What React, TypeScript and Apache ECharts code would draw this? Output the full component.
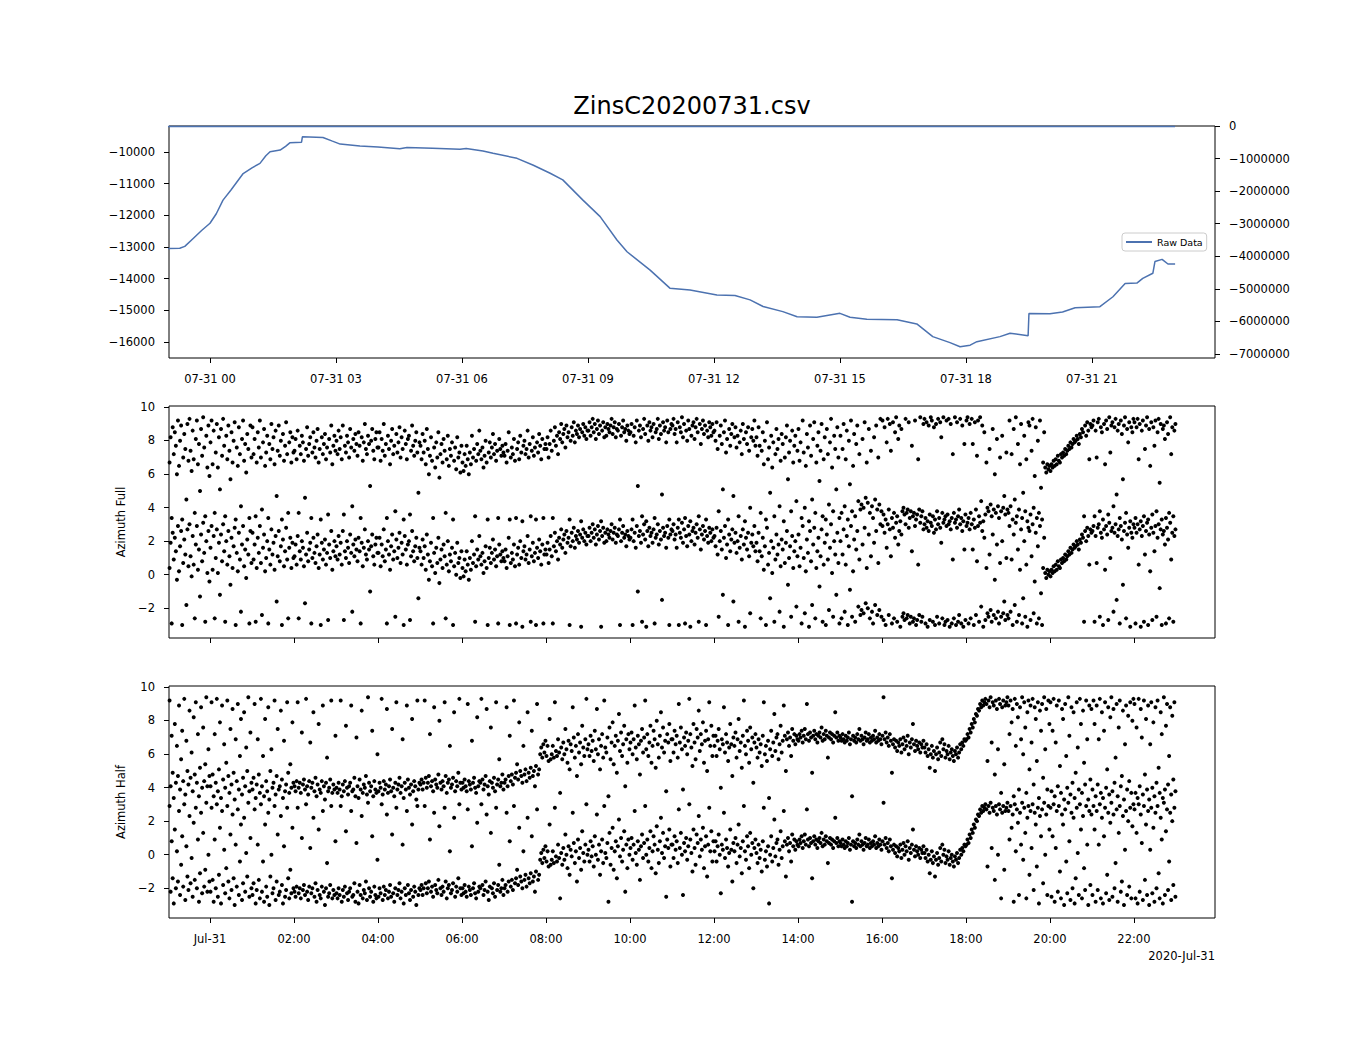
import React, { useEffect, useRef } from "react";
import * as echarts from "echarts";

const TITLE = "ZinsC20200731.csv";
const DATE_LABEL = "2020-Jul-31";
const LEGEND_NAME = "Raw Data";
const FULL_NAME = "Azimuth Full";
const HALF_NAME = "Azimuth Half";

// Raw data: hours relative to 2020-07-31 00:00 and values (left axis)
const rawHours = [
  -1.0, -0.72, -0.6, -0.4, -0.2, 0.0, 0.15, 0.31, 0.5, 0.79, 1.0, 1.19, 1.33, 1.43, 1.67, 1.8, 1.9, 2.18, 2.2,
  2.69, 2.9, 3.1, 3.57, 4.0, 4.52, 4.69, 5.3, 5.95, 6.1, 6.5, 6.74, 7.31, 7.7, 8.1, 8.4, 8.88, 9.29, 9.69, 9.93,
  10.48, 10.95, 11.43, 12.07, 12.5, 12.86, 13.17, 13.64, 13.98, 14.45, 15.0, 15.24, 15.64, 16.36, 16.83, 17.21,
  17.62, 17.86, 18.1, 18.26, 18.81, 19.05, 19.48, 19.5, 20.0, 20.3, 20.6, 21.19, 21.5, 21.79, 22.07, 22.21, 22.45,
  22.5, 22.67, 22.81, 22.98,
];
const rawValues = [
  -13050, -13040, -12980, -12730, -12480, -12250, -11950, -11520, -11200, -10680, -10500, -10360, -10120, -9990,
  -9940, -9820, -9710, -9690, -9520, -9540, -9650, -9750, -9810, -9840, -9900, -9855, -9880, -9915, -9890, -9970,
  -10040, -10200, -10420, -10670, -10880, -11520, -12040, -12780, -13150, -13730, -14300, -14360, -14515, -14530,
  -14670, -14880, -15040, -15200, -15220, -15095, -15220, -15285, -15300, -15430, -15830, -16020, -16150, -16100,
  -15990, -15830, -15726, -15800, -15100, -15110, -15050, -14920, -14885, -14570, -14150, -14140, -13990, -13830,
  -13460, -13390, -13537, -13537,
];
// Second raw series on the right axis (sits at the top edge)
const rightHours = [-1.0, 22.98];
const rightValues = [-15000, -15000];

// Tick positions
const topTickHours = [0, 3, 6, 9, 12, 15, 18, 21];
const bottomTickHours = [0, 2, 4, 6, 8, 10, 12, 14, 16, 18, 20, 22];
const leftTicks = [-16000, -15000, -14000, -13000, -12000, -11000, -10000];
const rightTicks = [0, -1000000, -2000000, -3000000, -4000000, -5000000, -6000000, -7000000];
const azTicks = [-2, 0, 2, 4, 6, 8, 10];

// Hour starts for the scatter samples
const hourStarts = [-1, 0, 1, 2, 3, 4, 5, 6, 7, 8, 9, 10, 11, 12, 13, 14, 15, 16, 17, 18, 19, 20, 21, 22];

// Azimuth Full (wrapped angle, radians), per hour
const fullH23 = [2.8, 0.4, 1.9, -2.9, 2.5, 0.9, 2.2, 1.4, -0.3, 2.9, 0.2, 1.7, 2.6, -3.0, 0.7, 2.1, 1.2, -1.8, 2.7, 0.5, 3.0, 1.1, -0.1, 2.3, 0.6, -2.6, 1.8, 2.9, 0.3, 1.5, -1.3, 2.4, 0.8, 3.1, 1.3, -2.8, 2.0, 0.1, 2.6, -0.4];
const fullH00 = [1.6, 2.9, 0.3, 2.3, -2.6, 1.0, 2.7, 0.1, 1.9, -1.2, 2.4, 0.8, 3.0, 1.4, -2.8, 2.0, 0.6, 2.6, 1.1, -0.6, 2.2, 0.4, 1.7, 2.8, -3.0, 1.3, 0.2, 2.5, 0.9, -2.2, 1.8, 2.9, 0.5, 1.5, -0.2, 2.1, 1.2, -2.9, 2.6, 0.7];
const fullH01 = [2.5, 0.9, 1.8, -2.8, 0.4, 2.2, 1.3, 2.9, 0.7, -2.4, 1.6, 2.4, 0.2, 1.0, 2.0, -2.9, 1.5, 0.6, 2.7, 1.2, 1.9, 0.3, 2.3, -1.6, 1.1, 2.6, 0.8, 1.7, -3.0, 2.1, 0.5, 1.4, 2.8, 0.9, -2.6, 1.6, 2.2, 0.4, 1.9, 1.0];
const fullH02 = [1.1, 1.8, 0.6, 2.3, -2.6, 1.4, 0.9, 2.0, 1.6, 0.5, -1.7, 1.2, 2.5, 0.8, 1.5, 1.9, -2.9, 1.0, 2.2, 1.3, 0.7, 1.7, 2.4, 0.4, 1.2, -3.0, 1.9, 0.9, 1.5, 2.1, 0.6, 1.3, -2.7, 1.8, 1.0, 2.6, 0.3, 1.4, 2.0, 1.1];
const fullH03 = [1.7, 0.9, 2.3, 1.2, 1.9, 0.6, 2.6, -2.7, 1.4, 1.0, 2.0, 1.6, 0.7, 2.4, 1.3, -2.2, 1.8, 1.1, 2.1, 1.5, 0.8, 2.2, 1.4, -2.9, 1.9, 0.5, 1.6, 2.7, 1.2, 0.9, 2.0, 1.5, -1.0, 1.7, 2.4, 1.1, 0.6, 1.8, 2.2, 1.3];
const fullH04 = [1.3, 2.2, 0.5, 1.8, 1.1, 2.7, 0.8, 1.5, -2.9, 2.0, 1.2, 0.3, 1.7, 2.4, 0.9, 1.4, -2.5, 2.1, 1.0, 1.6, 2.5, 0.7, 1.9, 1.2, -3.0, 2.3, 1.5, 0.6, 1.8, 2.0, -2.7, 1.1, 2.6, 1.4, 0.8, 1.7, 2.2, 1.0, -1.4, 1.6];
const fullH05 = [1.4, 0.6, 2.1, 1.0, 1.7, 0.3, 2.4, 1.2, -0.3, 0.8, 1.9, 0.5, -2.9, 1.3, 0.1, 1.6, 0.7, 2.2, -0.5, 0.9, 1.5, 0.4, 1.8, 1.1, -2.6, 0.6, 2.0, 0.2, 1.2, 0.8, 1.6, -3.0, 0.5, 1.3, 0.0, 1.9, 0.7, 1.0, -0.2, 1.4];
const fullH06 = [0.4, -0.1, 0.9, 0.2, 1.4, 0.6, -0.3, 1.0, 0.3, 2.0, 0.7, 1.2, -2.8, 0.5, 1.5, 0.9, 2.3, 1.1, 0.6, 1.3, 0.1, 0.8, 1.7, 0.4, -3.0, 1.0, 1.6, 0.7, 1.3, 2.1, 0.9, 1.5, 0.5, 1.1, -2.9, 1.8, 1.2, 0.8, 1.4, 1.0];
const fullH07 = [0.8, 1.5, 0.4, 1.1, 2.2, -3.0, 0.7, 1.3, 0.9, 1.8, 0.5, -2.9, 1.2, 1.6, 0.6, 2.0, 1.0, -3.1, 1.4, 1.7, 0.9, 1.2, 2.3, 0.7, 1.5, -2.8, 1.1, 1.9, 0.8, 1.3, -3.0, 1.6, 1.0, 2.1, 1.4, 0.6, 1.8, -2.9, 1.2, 1.5];
const fullH08 = [1.2, 1.9, 0.7, 1.5, 2.3, 1.1, -2.9, 1.7, 2.5, 1.4, 2.0, 0.9, 2.2, 1.8, 2.7, 1.6, 2.1, 2.4, 1.3, 2.6, 1.9, 2.2, -3.0, 1.7, 2.5, 2.0, 2.8, 1.6, 2.3, 2.1, 2.6, 1.9, 2.4, -3.1, 2.2, 2.7, 2.0, 2.5, 1.8, 2.3];
const fullH09 = [2.3, 2.8, 2.0, 2.5, 3.0, 2.2, 2.7, 1.8, 2.4, 2.9, 2.1, 2.6, -3.1, 2.3, 2.8, 1.9, 2.5, 2.0, 2.7, 2.4, 2.2, 2.6, 3.0, 2.1, 2.5, 2.8, 1.9, 2.4, 2.3, 2.7, -3.0, 2.0, 2.5, 2.9, 2.2, 2.4, 1.7, 2.6, 2.3, 2.1];
const fullH10 = [2.2, 2.7, -3.0, 2.0, 2.5, 1.6, 2.9, -1.0, 2.3, 2.6, 1.9, -2.8, 2.4, 3.0, 2.1, -3.1, 2.6, 1.7, 2.8, 2.3, 2.5, 1.9, 2.7, -2.9, 2.2, 2.4, 3.0, 1.8, 2.6, 2.1, -1.5, 2.8, 2.3, 2.5, 1.6, 2.9, 2.2, -3.0, 2.4, 2.7];
const fullH11 = [2.6, 3.0, 2.1, 2.4, 1.6, 2.8, -3.0, 2.5, 2.2, 3.1, 1.9, 2.7, -2.9, 2.3, 1.7, 2.9, 2.4, -3.1, 2.0, 2.6, 2.8, 1.8, 2.5, 3.0, 2.2, -2.8, 2.7, 1.5, 2.4, 2.9, 2.1, 2.6, -3.0, 2.3, 1.9, 2.8, 2.5, 2.0, 2.7, 2.2];
const fullH12 = [2.3, 1.7, 2.8, 1.2, -2.5, 2.0, 2.6, 1.5, -1.2, 2.2, 2.9, 1.0, 1.8, -3.0, 2.4, 1.4, 2.1, 2.7, -1.6, 1.9, 2.5, 1.3, 2.0, -2.8, 1.6, 2.3, 0.9, 2.7, 1.8, -3.1, 2.2, 1.5, 2.5, 1.1, -2.3, 1.9, 2.4, 1.7, 2.9, 1.4];
const fullH13 = [1.9, 0.8, 2.5, 1.4, -2.6, 1.1, 2.2, 0.3, 1.7, -3.0, 2.8, 0.6, 1.3, -1.4, 2.0, 0.1, 1.6, -2.8, 0.9, 2.4, 1.2, 1.8, -2.2, 0.5, 2.1, 1.5, -3.1, 0.7, 1.9, 2.6, -0.6, 1.0, 1.7, -2.5, 2.3, 0.4, 1.4, 2.0, -1.9, 1.1];
const fullH14 = [2.4, 0.5, 1.6, -2.9, 2.9, 1.0, -2.3, 0.2, 2.1, 1.3, -3.1, 2.6, 0.8, -1.8, 1.8, 2.8, -2.6, 0.4, 1.4, 2.2, -0.7, 1.1, 2.7, -2.8, 0.6, 1.9, -3.0, 2.4, 0.9, -2.1, 1.6, 3.0, 0.1, -2.5, 2.0, 1.2, -1.2, 2.5, 0.7, -2.9];
const fullH15 = [2.0, -2.6, 1.2, 2.7, -2.2, 0.6, 2.3, -3.0, 1.7, -0.9, 2.9, -2.5, 0.2, 2.1, -2.8, 1.5, 2.6, -1.9, 0.9, -2.4, -2.1, 1.8, -2.3, 2.8, -1.7, 0.4, -2.0, 2.4, -2.6, 1.1, -2.2, -2.9, 1.9, -1.8, 2.6, -2.4, 0.7, -2.1, 3.0, -2.5];
const fullH16 = [2.9, -2.7, 2.5, -3.0, 1.6, 3.0, -2.4, 2.7, 1.1, -2.9, 2.8, -2.6, 2.2, 3.1, -2.8, 1.8, 2.6, -3.1, 2.4, -2.5, -2.3, -2.7, 3.0, -2.6, -2.4, 2.8, -2.9, -2.5, 1.4, -2.8, -2.6, 2.9, -3.0, -2.7, 0.6, -2.4, 3.1, -2.8, -2.5, 2.7];
const fullH17 = [3.0, -2.9, 2.8, -3.1, 2.6, -2.7, 3.1, 2.9, -2.8, 2.5, -3.0, 2.7, -2.5, 3.0, -2.9, 2.8, 1.9, -2.6, 3.1, -3.0, -2.8, 2.9, -2.7, 3.0, -3.1, 2.7, -2.9, 0.9, -2.6, 3.1, -3.0, 2.8, -2.8, -2.4, 3.0, -2.9, 2.6, -3.1, 1.5, -2.7];
const fullH18 = [2.9, 3.1, -2.9, 2.7, -2.6, 3.0, 1.5, -3.0, 2.8, -2.4, 0.8, 2.9, -2.8, 3.1, -1.9, 2.6, -3.1, 2.2, -2.7, 0.4, -2.3, -2.5, 1.2, -2.1, -2.8, 2.4, -2.4, -0.3, -2.6, 1.8, -2.2, -2.9, 0.7, -2.5, 2.0, -2.3, -1.6, -2.7, 1.0, -2.4];
const fullH19 = [-2.6, 2.9, -2.2, 0.9, -3.0, 2.4, -1.8, 3.1, -2.8, 1.5, -2.4, 0.3, 2.7, -2.9, -1.4, 2.0, -2.5, 0.6, -3.1, 2.8, 2.6, -2.7, 1.1, 3.0, -2.3, -0.4, 2.5, -2.9, 1.7, -2.6, 2.9, -1.1, -3.0, 0.4, 2.2, 0.1, -0.2, 0.3, 0.0, 0.2];
const fullH20 = [-0.1, 0.3, 0.1, 0.5, 0.2, 0.6, 0.3, 0.8, 0.5, 0.4, 0.9, 0.7, 1.0, 0.8, 1.2, 0.9, 1.1, 1.4, 1.2, 1.6, 1.3, 1.5, 1.8, 1.6, 1.7, 2.0, 1.8, 1.5, 2.1, 1.9, 2.4, 2.2, -2.8, 2.6, 2.0, 2.8, 2.3, 0.6, 2.7, 2.5];
const fullH21 = [2.6, 2.9, -2.8, 2.3, 0.7, 2.8, 3.0, -2.5, 2.5, 2.2, -3.0, 2.7, 0.3, 2.9, 2.4, -2.7, 3.1, 1.0, 2.6, 2.8, -2.2, 2.5, 3.0, -1.5, 2.3, 2.7, -2.9, 2.9, 2.1, -0.6, 2.6, 3.1, -2.6, 2.4, 1.6, 2.8, -3.1, 2.5, 2.2, 3.0];
const fullH22 = [2.8, -2.9, 2.5, 3.0, 0.6, 2.7, -3.1, 2.3, 2.9, -2.8, 1.2, 2.6, 3.1, -3.0, 2.4, 0.2, 2.8, -2.7, 2.5, 1.4, 2.9, -2.5, 2.2, 3.0, -0.8, 2.7, -3.0, 2.4, 2.6, 1.8, -2.9, 2.8, 2.1, -2.6, 3.1, 0.9, 2.5, -2.8, 2.3, 2.7];

// Azimuth Half (wrapped angle, radians), per hour
const halfH23 = [-1.8, 2.9, -2.2, 0.8, -1.4, -2.9, 1.5, -2.0, 0.2, -1.6, 2.6, -2.4, -0.6, 1.1, -1.9, 3.0, -2.7, 0.5, -1.3, -2.1, 2.3, -1.7, -0.2, -2.5, 1.9, -1.5, 2.8, -2.0, 0.9, -2.8, -1.1, 2.5, -2.3, 1.3, -1.9, -0.9, 3.1, -2.2, 0.0, -1.6];
const halfH00 = [-2.2, 2.8, -1.5, -2.8, 0.9, -2.0, 3.0, -2.5, -1.2, 1.6, -2.9, 2.6, -1.8, 0.3, -2.3, -0.8, 2.9, -1.6, -2.6, 1.2, -2.1, 2.4, -1.4, -3.0, 0.6, -1.9, 2.7, -2.4, -0.4, 1.8, -2.7, -1.7, 2.2, -2.2, 0.1, -1.3, 3.1, -2.5, 1.0, -2.0];
const halfH01 = [-2.4, -1.7, 2.7, -2.9, -2.1, 0.6, -1.5, -2.6, 3.0, -2.2, -0.4, -2.8, 1.8, -1.9, -2.5, 2.5, -3.0, -1.3, 0.0, -2.3, -2.0, 2.9, -2.7, -1.6, 1.2, -2.4, -2.2, 2.3, -1.8, -2.9, 0.5, -2.5, -2.1, 2.8, -1.4, -2.6, -0.9, -2.3, 1.6, -2.0];
const halfH02 = [-2.2, -2.5, -1.9, 2.8, -2.3, -2.0, -2.6, 1.0, -2.1, -1.8, -2.4, 3.0, -2.2, -2.7, -1.9, 0.4, -2.3, -2.0, 2.2, -2.5, -1.7, -2.8, -2.1, 1.5, -2.4, -2.6, -1.9, 2.6, -2.2, -3.0, -2.0, -0.5, -2.5, -2.3, -1.8, 2.9, -2.6, -2.1, -2.4, 0.8];
const halfH03 = [-2.3, -2.6, -2.0, -2.4, 2.9, -2.8, -2.1, -2.5, -1.9, 1.4, -2.3, -2.7, -2.2, -2.0, 2.6, -2.5, -2.4, -1.7, -2.8, 0.7, -2.2, -2.9, -1.8, -2.4, 2.3, -2.6, -2.1, -2.3, -1.6, -2.7, 3.1, -2.0, -2.5, -2.2, 1.1, -2.8, -1.9, -2.4, -2.6, -0.3];
const halfH04 = [-2.5, -2.0, -2.3, 3.0, -2.7, -1.9, -2.4, -2.1, 2.4, -2.6, -2.2, -1.8, -2.5, 1.2, -2.3, -2.8, -2.0, 2.8, -2.4, -2.1, -1.7, -2.6, -2.2, 0.6, -2.9, -2.0, -2.4, 2.6, -1.8, -2.3, -2.7, -2.1, 1.8, -2.5, -1.9, -2.2, -3.0, 2.9, -2.4, -2.0];
const halfH05 = [-2.1, -1.8, -2.4, -2.0, 2.9, -1.7, -2.3, -2.0, -1.6, 0.9, -2.2, -1.9, -2.5, 2.5, -1.8, -2.1, -2.3, -1.5, 1.7, -2.0, -2.4, -1.9, -2.2, 2.8, -1.6, -2.6, -2.0, -1.8, 0.2, -2.3, -2.1, -1.7, 2.2, -2.5, -1.9, -2.2, -1.4, 3.0, -2.0, -2.4];
const halfH06 = [-2.0, -2.3, -1.8, -2.2, -2.5, 2.7, -1.9, -2.1, -2.4, 0.5, -2.0, -1.7, -2.3, -2.6, 1.9, -2.2, -1.9, -2.0, 3.0, -1.8, -2.4, -2.1, -1.6, 2.4, -2.2, -2.7, -1.9, 1.3, -2.0, -2.3, -1.7, -2.5, 2.8, -2.1, -1.8, -0.6, -2.2, -2.0, -1.5, -2.4];
const halfH07 = [-2.0, -1.8, 2.5, -2.2, -1.6, 0.8, -1.9, -1.5, -2.1, 2.9, -1.7, -1.4, -0.9, -1.8, 1.6, -1.3, -1.6, -2.0, 0.2, -1.5, -1.2, -1.9, 2.2, -1.4, -1.7, -1.1, 1.1, -1.6, -1.3, -2.2, -1.0, 2.7, -1.5, -1.2, -0.3, 0.1, -0.5, 0.3, -0.2, 0.5];
const halfH08 = [-0.4, 0.2, -0.7, 1.8, -0.6, -0.3, 0.2, -0.5, 2.8, -0.1, -0.4, 0.6, -0.2, -2.6, 0.1, -0.6, 0.4, -0.3, 1.2, 0.0, -0.8, 0.5, -1.2, 0.3, -0.1, 2.5, 0.7, -0.5, 0.2, -1.6, 0.9, -0.2, 0.4, -0.9, 1.4, 0.1, -0.4, 0.6, 3.0, 0.0];
const halfH09 = [0.3, -0.4, 0.8, -0.1, 0.5, -0.7, 1.1, 0.0, 2.4, -0.3, 0.6, -1.2, 0.2, 0.9, -0.5, 2.9, 0.1, -0.2, 0.7, -2.8, 1.3, -0.6, 0.4, 1.6, -0.9, 0.2, 0.8, -1.4, 0.5, 2.1, -0.1, 1.0, -0.4, 0.3, 1.4, -2.2, 0.6, -0.8, 0.9, 0.0];
const halfH10 = [0.4, 1.0, -0.3, 0.6, 2.6, 0.1, -0.6, 0.8, 0.3, -1.5, 0.5, 1.2, -0.2, 0.7, 2.9, 0.0, 0.9, -0.4, 0.4, 1.4, -0.8, 0.2, 1.1, 0.6, -1.1, 1.7, 0.3, -0.5, 0.8, 2.2, 0.1, 1.3, -0.2, 0.5, -2.5, 0.9, 0.4, 1.5, -0.7, 0.6];
const halfH11 = [0.6, -0.2, 1.1, 0.3, 0.8, -0.5, 2.7, 0.4, 1.3, 0.0, -2.4, 0.7, 0.2, 1.0, -0.3, 0.5, 3.0, 0.9, 0.1, -1.0, 1.5, 0.4, -0.6, 1.2, 0.7, 2.3, -0.1, 0.9, 0.3, 1.6, -0.8, 0.5, 1.1, -1.3, 0.6, 2.8, 0.2, 1.4, -0.4, 0.8];
const halfH12 = [0.2, 0.8, -0.4, 0.5, 1.2, 0.0, -2.3, 0.6, 0.3, 2.5, -0.2, 0.9, 0.4, -0.7, 0.1, 1.5, 0.3, -1.6, 0.7, 0.2, 1.0, -0.5, 0.6, 1.8, -0.1, 0.4, -1.1, 0.8, 2.9, 0.2, -0.3, 1.1, 0.5, -0.8, 1.3, 0.0, 0.7, -2.0, 0.4, 0.9];
const halfH13 = [0.1, -0.5, 0.6, -0.2, 0.3, -1.0, 0.8, 2.8, -0.3, 0.2, -0.7, 0.5, -2.9, 0.0, 1.1, -0.4, 0.4, 2.1, -0.1, 0.7, 0.9, -0.6, 0.3, 1.4, -0.2, 0.5, 2.6, 0.8, -1.3, 0.6, 1.0, 0.2, 0.7, -0.4, 1.2, 0.5, 0.9, 0.3, 0.8, 0.6];
const halfH14 = [0.5, 0.9, 0.7, 1.1, 0.4, 0.8, 1.2, 0.6, 2.7, 0.9, 0.5, 1.0, 0.7, -1.4, 0.8, 1.1, 0.6, 0.9, 0.4, 0.8, 1.0, 0.7, 1.3, 0.5, 0.9, 0.6, 1.1, 0.8, -0.5, 0.7, 1.0, 0.6, 0.9, 0.4, 0.8, 2.2, 0.7, 1.0, 0.5, 0.8];
const halfH15 = [0.7, 0.5, 0.9, 0.6, 0.4, 0.8, 0.5, 0.7, 1.0, 0.3, 0.6, -2.8, 0.8, 0.5, 0.7, 0.4, 0.9, 0.6, 1.2, 0.5, 0.8, 0.6, 0.3, 0.7, 1.0, 0.5, 0.6, 0.9, 0.4, 0.7, 0.5, 0.8, 0.6, 1.1, 0.4, 0.7, 0.5, 0.9, 0.6, 0.3];
const halfH16 = [0.8, 3.1, 0.6, 1.0, 0.4, 0.7, 0.2, 0.9, 0.5, -1.4, 0.3, 0.6, 0.1, 0.5, -0.1, 0.4, 0.2, 0.6, -0.2, 0.3, 0.7, 0.0, 0.5, 0.2, 0.8, -0.3, 0.4, 0.1, 0.6, 1.5, 0.3, -0.1, 0.5, 0.2, 0.0, 0.4, -0.2, 0.3, 0.1, 0.5];
const halfH17 = [0.1, -0.2, 0.3, -0.4, 0.0, -1.1, -0.3, 0.2, -0.5, -0.1, -1.3, -0.3, 0.1, -0.6, -0.2, 0.4, -0.4, 0.6, 0.0, 0.3, -0.5, -0.1, -0.3, 0.2, -0.6, -0.2, 0.0, -0.4, -0.7, -0.1, -0.3, 0.1, -0.5, -0.2, 0.3, 0.0, 0.4, 0.2, 0.6, 0.5];
const halfH18 = [0.6, 0.9, 0.7, 1.2, 1.0, 1.5, 1.3, 1.8, 1.6, 2.1, 2.0, 2.4, 2.3, 2.7, 2.5, 2.9, 2.6, 2.8, 3.0, 2.7, -0.7, 2.9, 2.5, 3.1, 0.4, 2.8, 2.6, -1.5, 2.9, 2.4, 0.0, 3.0, 2.7, -2.6, 2.5, 2.9, -0.9, 2.6, 2.8, 3.1];
const halfH19 = [2.6, 0.9, 2.9, 1.6, 2.4, -2.8, 3.0, 0.2, 2.7, 1.9, -2.4, 2.5, 0.6, 3.1, -0.3, 2.8, 1.3, -2.6, 2.2, 2.9, -1.2, 2.6, 0.4, 3.0, -2.1, 2.5, 1.8, -0.7, 2.8, -2.9, 2.3, 1.1, 2.7, -1.7, 3.1, 0.0, 2.4, -2.4, 2.9, 1.5];
const halfH20 = [2.8, -2.5, 1.1, 3.0, -2.8, 0.4, 2.6, -2.2, 2.9, -1.0, -2.6, 2.4, 1.8, -3.0, 2.7, -0.4, -2.3, 3.1, 0.8, -2.7, 2.5, -2.0, 2.2, -2.9, -1.4, 2.8, 0.1, -2.4, 3.0, 1.5, -2.6, 2.3, -0.8, -2.1, 2.9, 0.6, -3.0, 2.6, -1.8, 2.4];
const halfH21 = [-2.4, 2.9, 1.5, -2.8, 2.6, -2.1, 0.6, 3.0, -2.6, 2.2, -2.9, 1.1, 2.8, -2.3, -1.2, 2.5, -2.7, 1.9, 3.1, -2.5, 2.4, -2.0, -0.5, 2.7, -2.8, 1.3, 2.9, -2.2, -1.6, 2.3, -3.0, 0.3, 2.6, -2.4, 2.0, -1.9, 2.8, -2.6, 1.7, 3.0];
const halfH22 = [2.7, -2.6, 1.3, -2.9, 3.0, -2.2, 2.4, 0.7, -2.7, 2.9, -1.5, 1.8, -2.4, 2.6, -3.0, 0.3, 2.8, -2.3, 1.6, -2.8, 2.5, -2.0, 2.9, -1.1, -2.6, 2.2, 0.9, -2.9, 3.1, -2.4, 1.4, 2.7, -2.1, -0.4, 2.5, -2.7, 2.0, -1.8, 2.8, -2.5];

const fullByHour = [
  fullH23, fullH00, fullH01, fullH02, fullH03, fullH04, fullH05, fullH06, fullH07, fullH08, fullH09, fullH10,
  fullH11, fullH12, fullH13, fullH14, fullH15, fullH16, fullH17, fullH18, fullH19, fullH20, fullH21, fullH22,
];
const halfByHour = [
  halfH23, halfH00, halfH01, halfH02, halfH03, halfH04, halfH05, halfH06, halfH07, halfH08, halfH09, halfH10,
  halfH11, halfH12, halfH13, halfH14, halfH15, halfH16, halfH17, halfH18, halfH19, halfH20, halfH21, halfH22,
];

const X_MIN = -0.976;
const X_MAX = 23.93;
const FONT = "DejaVu Sans";
const LINE_COLOR = "#4c72b0";

function pad2(v: number) {
  const n = Math.round(v);
  return (n < 10 ? "0" : "") + n;
}
function minus(v: number) {
  return String(v).replace("-", "\u2212");
}

// Each wrapped angle is drawn twice, once as read and once shifted by a full turn
function buildPoints(byHour: number[][]) {
  const pts: number[][] = [];
  byHour.forEach((arr, k) => {
    const h = hourStarts[k];
    arr.forEach((v, i) => {
      const t = h + (i + 0.5) / arr.length;
      pts.push([t, v]);
      pts.push([t, v + 2 * Math.PI]);
    });
  });
  return pts;
}

export default function App() {
  const ref = useRef<HTMLDivElement>(null);

  useEffect(() => {
    if (!ref.current) return;
    const chart = echarts.init(ref.current, undefined, { renderer: "svg" });

    const labelBase = { color: "#000", fontSize: 11.5, fontFamily: FONT, margin: 14 };
    const tickBase = { show: true, length: 5, lineStyle: { color: "#000", width: 1 } };
    const gridBase = { left: 169, width: 1046, height: 232, show: true, borderColor: "#000", borderWidth: 1, containLabel: false };

    const xBase = {
      type: "value" as const,
      min: X_MIN,
      max: X_MAX,
      axisLine: { show: false, onZero: false },
      splitLine: { show: false },
    };
    const yBase = {
      type: "value" as const,
      axisLine: { show: false, onZero: false },
      splitLine: { show: false },
    };

    const option: any = {
      animation: false,
      backgroundColor: "#fff",
      title: {
        text: TITLE,
        left: 692,
        top: 94,
        padding: 0,
        textAlign: "center",
        textStyle: { fontSize: 24, fontWeight: "normal", fontFamily: FONT, color: "#000" },
      },
      legend: {
        data: [{ name: LEGEND_NAME, icon: "rect" }],
        left: 1122,
        top: 233,
        itemWidth: 26,
        itemHeight: 2,
        padding: [4, 4, 4, 4],
        borderColor: "#cccccc",
        borderWidth: 1,
        borderRadius: 3,
        backgroundColor: "rgba(255,255,255,0.8)",
        selectedMode: false,
        textStyle: { fontSize: 9.5, fontFamily: FONT, color: "#000" },
      },
      grid: [
        { ...gridBase, top: 126 },
        { ...gridBase, top: 406 },
        { ...gridBase, top: 686 },
      ],
      xAxis: [
        {
          ...xBase,
          gridIndex: 0,
          axisTick: { ...tickBase, customValues: topTickHours },
          axisLabel: { ...labelBase, margin: 15, customValues: topTickHours, formatter: (v: number) => "07-31 " + pad2(v) },
        },
        {
          ...xBase,
          gridIndex: 1,
          axisTick: { ...tickBase, customValues: bottomTickHours },
          axisLabel: { show: false },
        },
        {
          ...xBase,
          gridIndex: 2,
          axisTick: { ...tickBase, customValues: bottomTickHours },
          axisLabel: {
            ...labelBase,
            margin: 15,
            customValues: bottomTickHours,
            formatter: (v: number) => (Math.round(v) === 0 ? "Jul-31" : pad2(v) + ":00"),
          },
        },
      ],
      yAxis: [
        {
          ...yBase,
          gridIndex: 0,
          position: "left",
          min: -16505,
          max: -9179,
          axisTick: { ...tickBase, customValues: leftTicks },
          axisLabel: { ...labelBase, customValues: leftTicks, formatter: minus },
        },
        {
          ...yBase,
          gridIndex: 0,
          position: "right",
          min: -7122800,
          max: 0,
          axisTick: { ...tickBase, customValues: rightTicks },
          axisLabel: { ...labelBase, customValues: rightTicks, formatter: minus },
        },
        {
          ...yBase,
          gridIndex: 1,
          min: -3.77,
          max: 10.05,
          name: FULL_NAME,
          nameLocation: "middle",
          nameGap: 41,
          nameTextStyle: { fontSize: 11.5, fontFamily: FONT, color: "#000" },
          axisTick: { ...tickBase, customValues: azTicks },
          axisLabel: { ...labelBase, customValues: azTicks, formatter: minus },
        },
        {
          ...yBase,
          gridIndex: 2,
          min: -3.77,
          max: 10.05,
          name: HALF_NAME,
          nameLocation: "middle",
          nameGap: 41,
          nameTextStyle: { fontSize: 11.5, fontFamily: FONT, color: "#000" },
          axisTick: { ...tickBase, customValues: azTicks },
          axisLabel: { ...labelBase, customValues: azTicks, formatter: minus },
        },
      ],
      graphic: [
        {
          type: "text",
          x: 1215,
          y: 956,
          style: {
            text: DATE_LABEL,
            fill: "#000",
            font: "11.5px 'DejaVu Sans'",
            textAlign: "right",
            textVerticalAlign: "middle",
          },
        },
      ],
      series: [
        {
          type: "line",
          name: LEGEND_NAME,
          xAxisIndex: 0,
          yAxisIndex: 0,
          data: rawHours.map((h, i) => [h, rawValues[i]]),
          symbol: "none",
          showSymbol: false,
          lineStyle: { color: LINE_COLOR, width: 1.5 },
          itemStyle: { color: LINE_COLOR },
        },
        {
          type: "line",
          name: "Raw Data (right axis)",
          xAxisIndex: 0,
          yAxisIndex: 1,
          data: rightHours.map((h, i) => [h, rightValues[i]]),
          symbol: "none",
          showSymbol: false,
          clip: false,
          lineStyle: { color: LINE_COLOR, width: 1.5 },
          itemStyle: { color: LINE_COLOR },
        },
        {
          type: "scatter",
          name: FULL_NAME,
          xAxisIndex: 1,
          yAxisIndex: 2,
          data: buildPoints(fullByHour),
          symbolSize: 4,
          itemStyle: { color: "#000", opacity: 1 },
        },
        {
          type: "scatter",
          name: HALF_NAME,
          xAxisIndex: 2,
          yAxisIndex: 3,
          data: buildPoints(halfByHour),
          symbolSize: 4,
          itemStyle: { color: "#000", opacity: 1 },
        },
      ],
    };

    chart.setOption(option);
    return () => chart.dispose();
  }, []);

  return (
    <div
      ref={ref}
      style={{ position: "absolute", left: 0, top: 0, width: 1350, height: 1050, background: "#fff" }}
    />
  );
}
